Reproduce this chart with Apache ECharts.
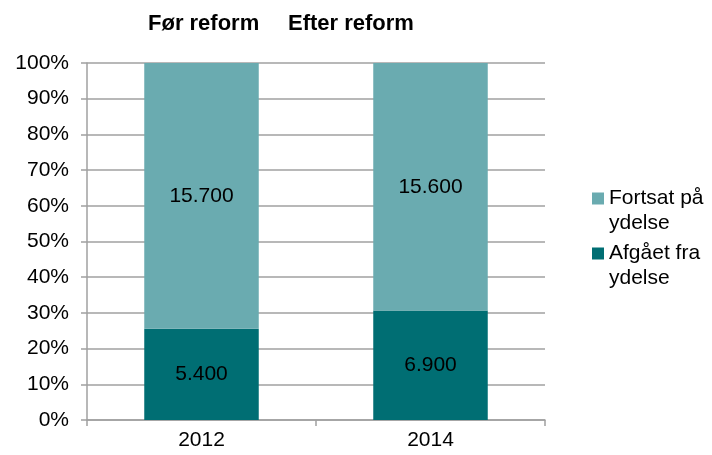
<!DOCTYPE html>
<html>
<head>
<meta charset="utf-8">
<script src="https://cdn.jsdelivr.net/npm/echarts@6/dist/echarts.min.js"></script>
<style>
  html, body { margin: 0; padding: 0; background: #fff; }
  #main { width: 712px; height: 455px; }
</style>
</head>
<body>
<div id="main"></div>
<script>
const years = ['2012', '2014'];
const periodTitles = ['Før reform', 'Efter reform'];
const afgaaet = [5400, 6900];
const fortsat = [15700, 15600];
const yTicks = [0, 10, 20, 30, 40, 50, 60, 70, 80, 90, 100];

const totals = years.map((y, i) => afgaaet[i] + fortsat[i]);
const share = (arr) => arr.map((v, i) => ({ value: v / totals[i] * 100, raw: v }));
const fmt = (n) => n.toLocaleString('da-DK');

const font = 'Liberation Sans, Arial, sans-serif';
const gridColor = '#a0a0a0';

const chart = echarts.init(document.getElementById('main'));
chart.setOption({
  animation: false,
  textStyle: { fontFamily: font },
  title: [
    { text: periodTitles[0], left: 148, top: 13, padding: 0,
      textStyle: { fontSize: 22, fontWeight: 'bold', color: '#000', fontFamily: font } },
    { text: periodTitles[1], left: 288, top: 13, padding: 0,
      textStyle: { fontSize: 22, fontWeight: 'bold', color: '#000', fontFamily: font } }
  ],
  grid: { left: 87, right: 167, top: 63, bottom: 35 },
  legend: {
    orient: 'vertical',
    left: 592,
    top: 161,
    padding: 0,
    itemWidth: 12,
    itemHeight: 12,
    itemGap: -20,
    icon: 'rect',
    data: ['Fortsat på\nydelse', 'Afgået fra\nydelse'],
    // empty first line so the square sits level with the first text line
    formatter: (name) => '\n' + name,
    textStyle: { fontSize: 21, color: '#000', lineHeight: 25, fontFamily: font }
  },
  xAxis: {
    type: 'category',
    data: years,
    axisLine: { lineStyle: { color: gridColor, width: 1.5 } },
    axisTick: { show: true, length: 6, lineStyle: { color: gridColor, width: 1.5 } },
    axisLabel: { fontSize: 21, color: '#000', margin: 10 }
  },
  yAxis: {
    type: 'value',
    min: 0,
    max: 100,
    interval: 10,
    axisLine: { show: true, lineStyle: { color: gridColor, width: 1.5 } },
    axisTick: { show: true, length: 6, lineStyle: { color: gridColor, width: 1.5 } },
    splitLine: { lineStyle: { color: gridColor, width: 1.5 } },
    axisLabel: {
      fontSize: 21, color: '#000', margin: 18,
      formatter: (v) => yTicks.includes(v) ? v + '%' : ''
    }
  },
  series: [
    {
      name: 'Afgået fra\nydelse',
      type: 'bar',
      stack: 'total',
      barWidth: '50%',
      data: share(afgaaet),
      itemStyle: { color: '#006e73' },
      label: {
        show: true, position: 'inside', fontSize: 21, color: '#000',
        formatter: (p) => fmt(p.data.raw)
      }
    },
    {
      name: 'Fortsat på\nydelse',
      type: 'bar',
      stack: 'total',
      barWidth: '50%',
      data: share(fortsat),
      itemStyle: { color: '#6aabb0' },
      label: {
        show: true, position: 'inside', fontSize: 21, color: '#000',
        formatter: (p) => fmt(p.data.raw)
      }
    }
  ]
});
</script>
</body>
</html>
